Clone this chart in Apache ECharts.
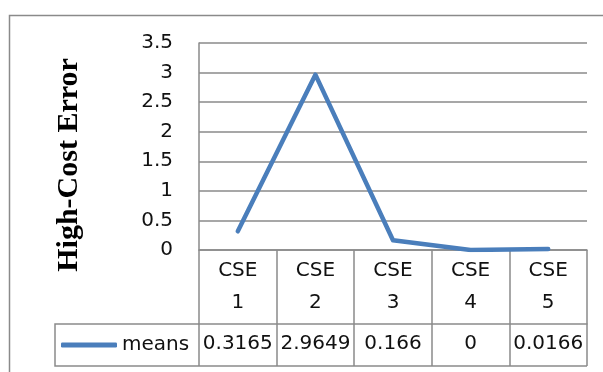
<!DOCTYPE html>
<html>
<head>
<meta charset="utf-8">
<style>
  html, body { margin: 0; padding: 0; background: #fff; }
  #chart { width: 603px; height: 372px; }
</style>
<script src="https://cdn.jsdelivr.net/npm/echarts@6/dist/echarts.min.js"></script>
</head>
<body>
<div id="chart"></div>
<script>
// Categories, series values and axis ticks
const categories = ['CSE 1', 'CSE 2', 'CSE 3', 'CSE 4', 'CSE 5'];
const seriesName = 'means';
const means = [0.3165, 2.9649, 0.166, 0, 0.0166];
const yTicks = { min: 0, max: 3.5, interval: 0.5 };
const yTitle = 'High-Cost Error';

const FONT = 'DejaVu Sans';
const GRID = '#8a8a8a';
const BLUE = '#4a7ebb';

const chart = echarts.init(document.getElementById('chart'), null, { renderer: 'canvas' });

const plotLeft = 199, plotRight = 587, plotTop = 43, plotBottom = 250;
const headerH = 74, valueH = 42;

chart.setOption({
  animation: false,
  backgroundColor: '#fff',
  grid: { left: plotLeft, right: 603 - plotRight, top: plotTop, bottom: 372 - plotBottom, containLabel: false },
  legend: {
    data: [seriesName],
    left: 61, top: 335, padding: 0,
    icon: 'roundRect', itemWidth: 56, itemHeight: 5, itemGap: 4,
    textStyle: { fontFamily: FONT, fontSize: 20, color: '#111', padding: [0, 0, 0, 0] }
  },
  xAxis: [
    {
      // category header row of the data table
      type: 'category', data: categories, boundaryGap: true, position: 'bottom',
      axisLine: { show: true, lineStyle: { color: GRID, width: 1.5 } },
      axisTick: { show: true, interval: 0, length: headerH, lineStyle: { color: GRID, width: 1.5 } },
      axisLabel: {
        interval: 0, hideOverlap: false,
        fontFamily: FONT, fontSize: 20, color: '#111', lineHeight: 32, margin: 5,
        formatter: v => v.replace(' ', '\n')
      },
      splitLine: { show: false }
    },
    {
      // value row of the data table
      type: 'category', data: categories, boundaryGap: true, position: 'bottom', offset: headerH,
      axisLine: { show: true, lineStyle: { color: GRID, width: 1.5 } },
      axisTick: { show: true, interval: 0, length: valueH, lineStyle: { color: GRID, width: 1.5 } },
      axisLabel: {
        interval: 0, hideOverlap: false,
        fontFamily: FONT, fontSize: 20, color: '#111', margin: 10,
        formatter: (v, i) => String(means[i])
      },
      splitLine: { show: false }
    }
  ],
  yAxis: {
    type: 'value', min: yTicks.min, max: yTicks.max, interval: yTicks.interval,
    axisLine: { show: true, lineStyle: { color: GRID, width: 1.5 } },
    axisTick: { show: false },
    axisLabel: { fontFamily: FONT, fontSize: 20, color: '#111', margin: 26 },
    splitLine: { show: true, lineStyle: { color: GRID, width: 1.5 } }
  },
  series: [{
    name: seriesName, type: 'line', xAxisIndex: 0, data: means,
    symbol: 'none', smooth: false,
    lineStyle: { color: BLUE, width: 4.5, cap: 'round', join: 'round' },
    itemStyle: { color: BLUE }
  }],
  graphic: [
    {
      type: 'rect', silent: true,
      shape: { x: 9.5, y: 15.5, width: 620, height: 420 },
      style: { fill: 'none', stroke: GRID, lineWidth: 1.5 }
    },
    {
      // legend cell frame of the data table
      type: 'polyline', silent: true,
      shape: { points: [[plotLeft, plotBottom + headerH], [55, plotBottom + headerH], [55, plotBottom + headerH + valueH], [plotRight, plotBottom + headerH + valueH]] },
      style: { fill: 'none', stroke: GRID, lineWidth: 1.5 }
    },
    {
      type: 'text', silent: true, x: 69, y: 165, rotation: Math.PI / 2,
      style: {
        text: yTitle, fontFamily: 'Liberation Serif', fontWeight: 'bold', fontSize: 30,
        fill: '#000', align: 'center', verticalAlign: 'middle'
      }
    }
  ]
});
</script>
</body>
</html>
